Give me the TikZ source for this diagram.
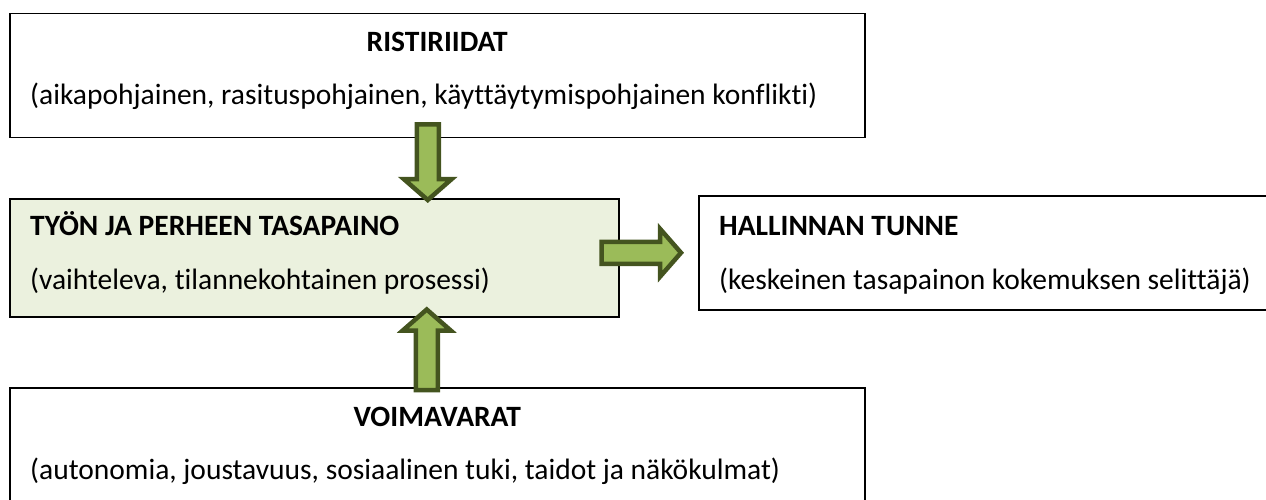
\documentclass[tikz,border=0pt]{standalone}
\usepackage{fontspec}
\setmainfont{Carlito}[Ligatures=NoCommon]
\usetikzlibrary{calc,positioning}
\definecolor{oliveedge}{HTML}{44541F}
\definecolor{olivefill}{HTML}{9BBB59}
\definecolor{palegreen}{HTML}{EBF1DE}
\tikzset{
	box/.style={draw=black, line width=1.5pt, anchor=north west, inner sep=0pt},
	title/.style={font=\bfseries\fontsize{29.5}{34}\selectfont, inner sep=0pt},
	body/.style={font=\fontsize{29.5}{34}\selectfont, inner sep=0pt},
	blockarrow/.style={draw=oliveedge, fill=olivefill, line width=4.5pt},
}
\newcommand{\blockarrow}[2]{
	\coordinate (h) at ($(#2)!21pt!(#1)$);
	\draw[blockarrow] ($(#1)!11pt!90:(#2)$) --
	($(h)!11pt!90:(#2)$) --
	($(h)!24pt!90:(#2)$) --
	(#2) --
	($(h)!24pt!-90:(#2)$) --
	($(h)!11pt!-90:(#2)$) --
	($(#1)!11pt!-90:(#2)$) --
	cycle;
	}

\begin{document}
\begin{tikzpicture}[x=1pt,y=-1pt]
	\useasboundingbox (0,0) rectangle (1266,500);

	% four boxes
	\node[box, minimum width=855pt, minimum height=124pt] (conflicts) at (9,13) {};
	\node[box, fill=palegreen, minimum width=609pt, minimum height=118pt] (balance) at (9,198) {};
	\node[box, minimum width=600pt, minimum height=114pt] (control) at (698,195) {};
	\node[box, minimum width=855pt, minimum height=150pt] (resources) at (9,387) {};

	\node[title, anchor=base] (conflictstitle) at ($(conflicts.north)+(0,39)$) {RISTIRIIDAT};
	\node[body, anchor=base west] (conflictstext) at ($(conflicts.north west)+(21,92)$) {(aikapohjainen, rasituspohjainen, käyttäytymispohjainen konflikti)};

	\node[title, anchor=base west] (balancetitle) at ($(balance.north west)+(21,37)$) {TYÖN JA PERHEEN TASAPAINO};
	\node[body, anchor=base west] (balancetext) at ($(balance.north west)+(21,91)$) {(vaihteleva, tilannekohtainen prosessi)};

	\node[title, anchor=base west] (controltitle) at ($(control.north west)+(21,40)$) {HALLINNAN TUNNE};
	\node[body, anchor=base west] (controltext) at ($(control.north west)+(21,94)$) {(keskeinen tasapainon kokemuksen selittäjä)};

	\node[title, anchor=base] (resourcestitle) at ($(resources.north)+(0,39)$) {VOIMAVARAT};
	\node[body, anchor=base west] (resourcestext) at ($(resources.north west)+(21,92)$) {(autonomia, joustavuus, sosiaalinen tuki, taidot ja näkökulmat)};

	% arrows
	\coordinate (d1) at ($(conflicts.south)+(-9.5,-14)$);
	\coordinate (d2) at ($(d1 |- balance.north)+(0,2)$);
	\coordinate (u1) at ($(resources.north)+(-10.5,3)$);
	\coordinate (u2) at ($(u1 |- balance.south)+(0,-8)$);
	\coordinate (r1) at ($(balance.east)+(-18,-5)$);
	\coordinate (r2) at ($(r1 -| control.west)+(-17,0)$);

	\blockarrow{d1}{d2}
	\blockarrow{u1}{u2}
	\blockarrow{r1}{r2}

\end{tikzpicture}
\end{document}
